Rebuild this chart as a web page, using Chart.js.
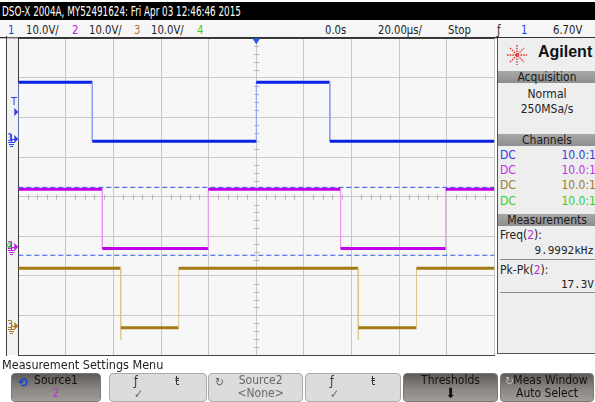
<!DOCTYPE html>
<html>
<head>
<meta charset="utf-8">
<script src="https://cdn.jsdelivr.net/npm/chart.js@4.4.1/dist/chart.umd.min.js"></script>
<style>
  body { margin:0; width:595px; height:402px; background:#fff; position:relative; overflow:hidden;
         font-family:"Liberation Sans Narrow","DejaVu Sans Condensed","Liberation Sans",sans-serif; font-size:12px; color:#222; }
  .abs { position:absolute; white-space:nowrap; }
  #hdr { left:0; width:595px; height:18px; top:2px; background:#000; color:#fff; }
  #hdr span { position:absolute; left:2px; top:1px; font-size:14px; transform:scaleX(0.7); transform-origin:left; }
  #row2 { left:0; top:20px; width:595px; height:17px; background:#f6f6f6; border-bottom:1px solid #333; }
  #row2 span { position:absolute; top:2px; font-size:13px; transform:scaleX(0.86); transform-origin:left; }
  #chartBox { left:0; top:36px; width:497px; height:322px; }
  #panel { left:497px; top:38px; width:98px; height:315px; background:#eeeeee; border-left:1px solid #555; border-bottom:1px solid #555; }
  #panel .hd { position:absolute; left:0; width:98px; height:12px; background:linear-gradient(#a8a8a8,#8e8e8e); color:#1a1a1a; text-align:center; font-size:12px; line-height:12px; }
  #panel .t { position:absolute; font-size:12px; }
  #panel .sep { position:absolute; left:2px; width:96px; height:0; border-top:1px solid #888; }
  #bottom { left:0; top:357px; width:595px; height:45px; }
  .key { position:absolute; top:16px; height:27px; border-radius:4px; text-align:center; font-size:12px; line-height:13px; }
  .dark { background:linear-gradient(#5e5a56,#8a8682 55%,#a09c98); color:#111; border:1px solid #777; }
  .light { background:#dcdcdc; color:#333; border:1px solid #aaa; }
</style>
</head>
<body>
<div id="hdr" class="abs"><span>DSO-X 2004A, MY52491624: Fri Apr 03 12:46:46 2015</span></div>
<div id="row2" class="abs">
  <span style="left:8px;color:#2040e0">1</span><span style="left:26px">10.0V/</span>
  <span style="left:72px;color:#c020e0">2</span><span style="left:89px">10.0V/</span>
  <span style="left:134px;color:#b07a30">3</span><span style="left:151px">10.0V/</span>
  <span style="left:197px;color:#30d030">4</span>
  <span style="left:325px">0.0s</span><span style="left:378px">20.00µs/</span>
  <span style="left:448px">Stop</span><span style="left:497px">ƒ</span>
  <span style="left:521px;color:#2040e0">1</span><span style="left:553px">6.70V</span>
</div>

<div id="chartBox" class="abs"><canvas id="scope" width="497" height="322"></canvas></div>

<div id="panel" class="abs">
  <svg class="abs" style="left:8px;top:6px" width="22" height="22" viewBox="-11 -11 22 22">
    <g stroke="#e02020" stroke-width="1.3" stroke-dasharray="1.5 1.2">
      <line x1="-10" y1="0" x2="10" y2="0"/><line x1="0" y1="-10" x2="0" y2="10"/>
      <line x1="-7" y1="-7" x2="7" y2="7"/><line x1="-7" y1="7" x2="7" y2="-7"/>
    </g>
  </svg>
  <div class="t" style="left:40px;top:5px;font-size:16px;font-weight:bold;font-family:'Liberation Sans',sans-serif;color:#111">Agilent</div>
  <div class="hd" style="top:33px">Acquisition</div>
  <div class="t" style="left:0;width:98px;text-align:center;top:49px">Normal</div>
  <div class="t" style="left:0;width:98px;text-align:center;top:64px">250MSa/s</div>
  <div class="hd" style="top:96px">Channels</div>
  <div class="t" style="left:2px;top:110px;color:#3040e0">DC</div><div class="t" style="right:0;top:110px;color:#3040e0">10.0:1</div>
  <div class="t" style="left:2px;top:125px;color:#c030e0">DC</div><div class="t" style="right:0;top:125px;color:#c030e0">10.0:1</div>
  <div class="t" style="left:2px;top:140px;color:#a07a30">DC</div><div class="t" style="right:0;top:140px;color:#a07a30">10.0:1</div>
  <div class="t" style="left:2px;top:156px;color:#30d030">DC</div><div class="t" style="right:0;top:156px;color:#30d030">10.0:1</div>
  <div class="hd" style="top:176px">Measurements</div>
  <div class="t" style="left:2px;top:190px">Freq(<span style="color:#c030e0">2</span>):</div>
  <div class="t" style="right:2px;top:206px;font-family:'DejaVu Sans Mono',monospace;font-size:11px">9.9992kHz</div>
  <div class="sep" style="top:221px"></div>
  <div class="t" style="left:2px;top:225px">Pk-Pk(<span style="color:#c030e0">2</span>):</div>
  <div class="t" style="right:2px;top:240px;font-family:'DejaVu Sans Mono',monospace;font-size:11px">17.3V</div>
  <div class="sep" style="top:254px"></div>
</div>

<div id="bottom" class="abs">
  <div class="abs" style="left:2px;top:0;font-size:12.5px">Measurement Settings Menu</div>
  <div class="key dark" style="left:11px;width:88px"><span style="position:absolute;left:6px;top:2px;color:#1040e0;font-weight:bold;font-size:13px">⟲</span>Source1<br><span style="color:#c030e0">2</span></div>
  <div class="key light" style="left:109px;width:96px"><span style="position:absolute;left:24px;top:1px">ƒ</span><span style="position:absolute;left:65px;top:1px">ŧ</span><span style="position:absolute;left:24px;top:14px;color:#666">✓</span></div>
  <div class="key light" style="left:208px;width:93px;color:#666"><span style="position:absolute;left:6px;top:2px">↻</span>&nbsp;&nbsp;&nbsp;Source2<br>&nbsp;&nbsp;&nbsp;&lt;None&gt;</div>
  <div class="key light" style="left:305px;width:94px"><span style="position:absolute;left:24px;top:1px">ƒ</span><span style="position:absolute;left:65px;top:1px">ŧ</span><span style="position:absolute;left:24px;top:14px;color:#666">✓</span></div>
  <div class="key dark" style="left:403px;width:93px">Thresholds<br><span style="font-size:14px">⬇</span></div>
  <div class="key dark" style="left:500px;width:92px"><span style="position:absolute;left:4px;top:1px;color:#bbb">↻</span>&nbsp;&nbsp;Meas Window<br>Auto Select</div>
</div>

<script>
// time in µs (20 µs/div), values in screen volts (10 V/div, centre = 0)
const ch1Time = [-100, -100, -68.9, -68.9, 0, 0, 30.9, 30.9, 100];
const ch1Volt = [14.0, 28.9, 28.9, 14.0, 14.0, 28.9, 28.9, 14.0, 14.0];
const ch2Time = [-100, -64.7, -64.7, -20.2, -20.2, 35.4, 35.4, 79.6, 79.6, 100];
const ch2Volt = [1.85, 1.85, -13.1, -13.1, 1.85, 1.85, -13.1, -13.1, 1.85, 1.85];
const ch3Time = [-100, -57.0, -57.0, -56.9, -32.6, -32.6, 42.8, 42.8, 42.9, 67.3, 67.3, 100];
const ch3Volt = [-18.1, -18.1, -36.2, -33.1, -33.1, -18.1, -18.1, -36.2, -33.1, -33.1, -18.1, -18.1];
const threshTime = [-100, 100];
const threshUpper = [2.35, 2.35];
const threshLower = [-14.8, -14.8];
// ground reference markers (screen volts) and trigger level
const groundLevels = [14.6, -12.8, -32.7];
const triggerLevel = 21.4;

function pts(t, v) { return t.map((x, i) => ({ x, y: v[i] })); }

function trace(label, t, v, color, edgeColor, width) {
  const isEdge = c => Math.abs(c.p0.parsed.x - c.p1.parsed.x) < 0.5;
  return {
    label, data: pts(t, v), borderColor: color, borderWidth: width, pointRadius: 0,
    tension: 0, fill: false,
    segment: {
      borderColor: c => isEdge(c) ? edgeColor : color,
      borderWidth: c => isEdge(c) ? 1 : width
    }
  };
}

function dashed(label, v) {
  return { label, data: pts(threshTime, v), borderColor: '#2f55e6', borderWidth: 1, borderDash: [5, 3], pointRadius: 0 };
}

const scopeDecor = {
  id: 'scopeDecor',
  beforeDraw(chart) {
    const { ctx, chartArea: a } = chart;
    ctx.save();
    ctx.fillStyle = '#f2f2f2';
    ctx.fillRect(7, 0, a.left - 7, a.bottom);
    ctx.fillStyle = '#f7f7f7';
    ctx.fillRect(a.left, a.top, a.right - a.left, a.bottom - a.top);
    ctx.fillStyle = '#444';
    ctx.fillRect(6, 0, 1, a.bottom + 1);
    ctx.restore();
  },
  beforeDatasetsDraw(chart) {
    const { ctx, scales: { x, y } } = chart;
    const cx = x.getPixelForValue(0), cy = y.getPixelForValue(0);
    ctx.save();
    ctx.strokeStyle = '#b4b4b4';
    ctx.lineWidth = 1;
    ctx.beginPath();
    for (let t = -96; t < 100; t += 4) {
      if (t % 20 === 0) continue;
      const px = Math.round(x.getPixelForValue(t)) + 0.5;
      ctx.moveTo(px, cy - 2); ctx.lineTo(px, cy + 3);
    }
    for (let v = -38; v < 40; v += 2) {
      if (v % 10 === 0) continue;
      const py = Math.round(y.getPixelForValue(v)) + 0.5;
      ctx.moveTo(cx - 2, py); ctx.lineTo(cx + 3, py);
    }
    ctx.stroke();
    ctx.restore();
  },
  afterDraw(chart) {
    const { ctx, chartArea: a, scales: { x, y } } = chart;
    ctx.save();
    ctx.fillStyle = '#333';
    ctx.fillRect(0, a.top - 1, a.right + 3, 1);
    // trigger position marker
    const tx = x.getPixelForValue(0);
    ctx.fillStyle = '#2a5ae8';
    ctx.beginPath();
    ctx.moveTo(tx - 4, a.top); ctx.lineTo(tx + 4, a.top); ctx.lineTo(tx, a.top + 6); ctx.closePath(); ctx.fill();
    // left markers
    const cols = ['#2a40e8', '#c020e0', '#a87a20'];
    const names = ['1', '2', '3'];
    ctx.font = '11px "DejaVu Sans Condensed", sans-serif';
    ctx.textBaseline = 'middle';
    const arrow = (py, col) => {
      ctx.fillStyle = col;
      ctx.beginPath();
      ctx.moveTo(a.left - 4, py - 4); ctx.lineTo(a.left, py); ctx.lineTo(a.left - 4, py + 4); ctx.closePath(); ctx.fill();
    };
    const ground = (px, py, col) => {
      ctx.strokeStyle = col; ctx.lineWidth = 1;
      ctx.beginPath();
      ctx.moveTo(px + 0.5, py - 5); ctx.lineTo(px + 0.5, py + 3);
      ctx.moveTo(px - 3, py + 3.5); ctx.lineTo(px + 4, py + 3.5);
      ctx.moveTo(px - 2, py + 5.5); ctx.lineTo(px + 3, py + 5.5);
      ctx.moveTo(px - 1, py + 7.5); ctx.lineTo(px + 2, py + 7.5);
      ctx.stroke();
    };
    groundLevels.forEach((g, i) => {
      const py = Math.round(y.getPixelForValue(g));
      if (i === 1) { ctx.fillStyle = '#30d030'; ctx.fillText('4', 6, py - 1); }
      ctx.fillStyle = cols[i];
      ctx.fillText(names[i], 7, py - 1);
      ctx.fillRect(11, py, a.left - 14, 1);
      arrow(py, cols[i]);
      ground(11, py, cols[i]);
    });
    const ty = Math.round(y.getPixelForValue(triggerLevel));
    ctx.fillStyle = cols[0];
    ctx.fillText('T', 11, ty - 10);
    arrow(ty, cols[0]);
    ctx.restore();
  }
};

new Chart(document.getElementById('scope'), {
  type: 'line',
  data: {
    datasets: [
      dashed('thr hi', threshUpper),
      dashed('thr lo', threshLower),
      trace('3', ch3Time, ch3Volt, '#a47a14', '#dcc58c', 3),
      trace('2', ch2Time, ch2Volt, '#c000e8', '#ec90f4', 3),
      trace('1', ch1Time, ch1Volt, '#0a22e6', '#8c9cf4', 3)
    ]
  },
  options: {
    responsive: false,
    animation: false,
    devicePixelRatio: 1,
    layout: { padding: { left: 18.3, top: 2.3, right: 2.7, bottom: 3 } },
    plugins: { legend: { display: false }, tooltip: { enabled: false } },
    scales: {
      x: {
        type: 'linear', min: -100, max: 100,
        ticks: { display: false, stepSize: 20 },
        grid: { drawTicks: false, color: c => c.tick && c.tick.value === -100 ? '#3a3a3a' : '#c8c8c8' },
        border: { display: true, color: '#444' }
      },
      y: {
        min: -40, max: 40,
        ticks: { display: false, stepSize: 10 },
        grid: { drawTicks: false, color: c => c.tick && (c.tick.value === -40 || c.tick.value === 40) ? '#444' : '#c8c8c8' },
        border: { display: true, color: '#3a3a3a' }
      }
    }
  },
  plugins: [scopeDecor]
});
</script>
</body>
</html>
